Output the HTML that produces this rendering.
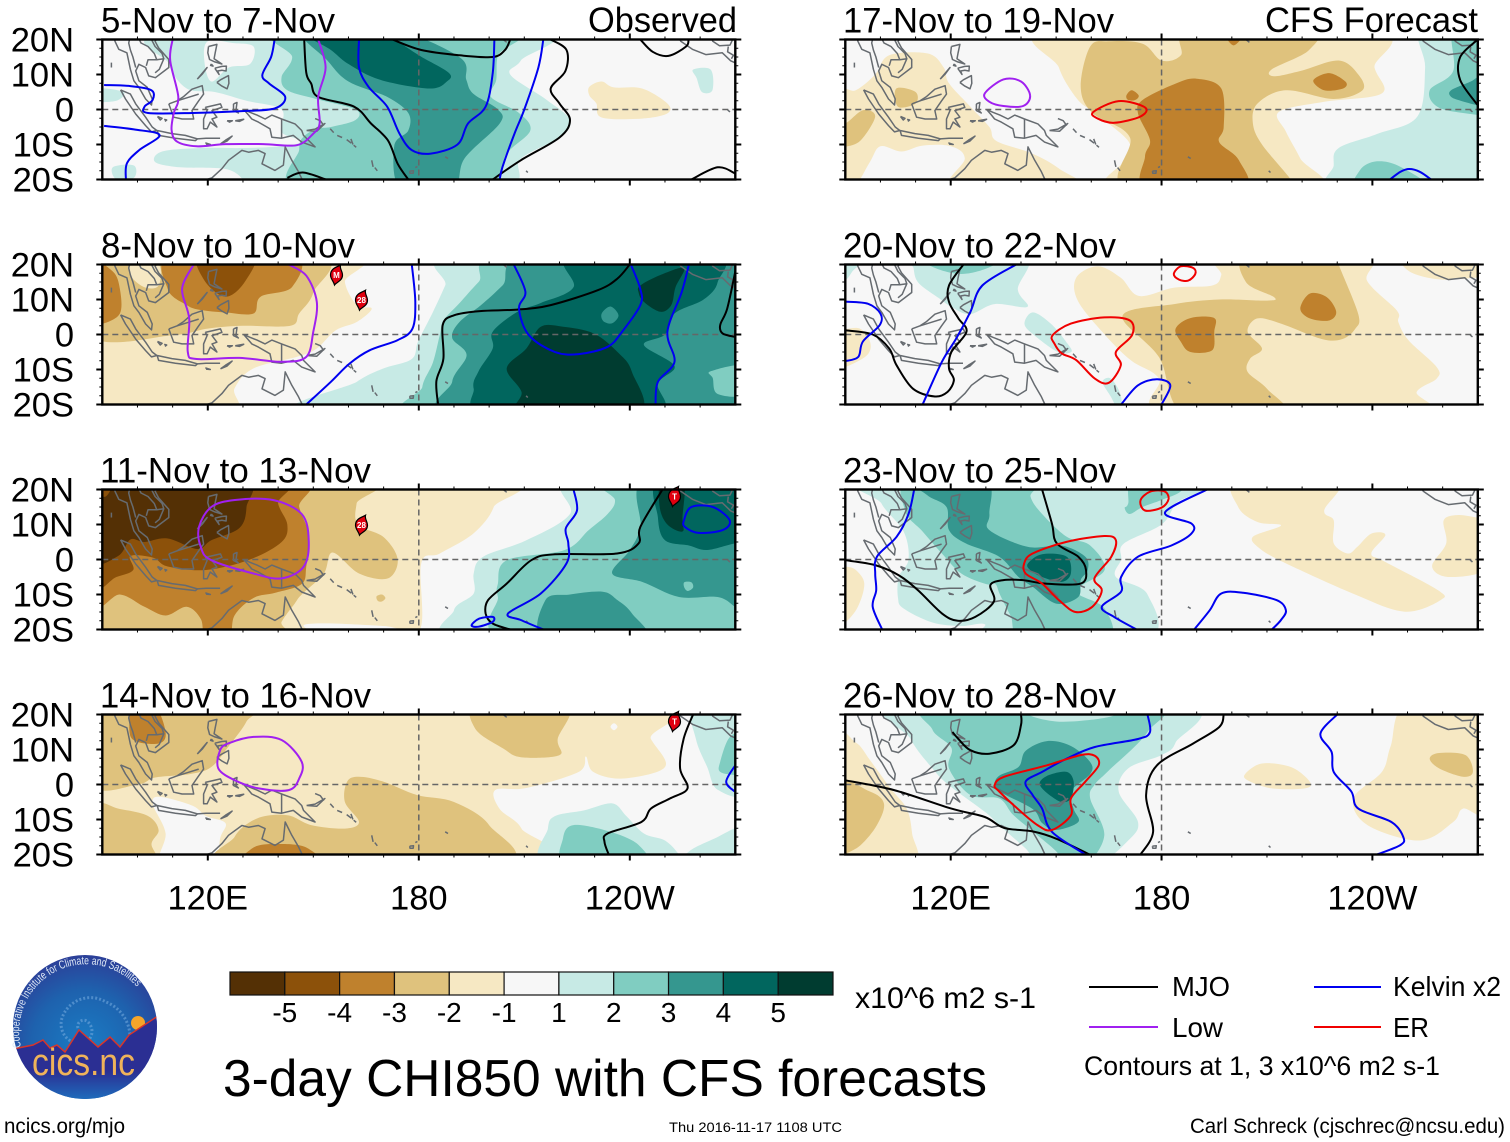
<!DOCTYPE html>
<html lang="en">
<head>
<meta charset="utf-8">
<title>3-day CHI850 with CFS forecasts</title>
<style>
html,body{margin:0;padding:0;background:#fff;}
svg{display:block;font-family:"Liberation Sans",sans-serif;}
</style>
</head>
<body>
<svg id="chart" xmlns="http://www.w3.org/2000/svg" width="1510" height="1142" viewBox="0 0 1510 1142">
  <rect width="1510" height="1142" fill="#fff"/>
  <g id="panels"></g>
  <g id="colorbar"></g>
  <text x="855" y="1008" font-size="30" textLength="181" lengthAdjust="spacingAndGlyphs">x10^6 m2 s-1</text>
  <g>
    <defs>
      <radialGradient id="logoGrad" cx="50%" cy="62%" r="62%">
        <stop offset="0" stop-color="#1a7cc4"/><stop offset="0.6" stop-color="#1e62ae"/><stop offset="1" stop-color="#2c3f98"/>
      </radialGradient>
      <linearGradient id="logoLand" x1="0" y1="0" x2="0" y2="1">
        <stop offset="0" stop-color="#2b2f93"/><stop offset="0.62" stop-color="#2b2f93"/><stop offset="1" stop-color="#1c78c4"/>
      </linearGradient>
      <clipPath id="logoClip"><circle cx="85" cy="1027" r="72"/></clipPath>
      <path id="logoArc" d="M21 1047 A66 66 0 0 1 152 1016"/>
    </defs>
    <circle cx="85" cy="1027" r="72" fill="url(#logoGrad)"/>
    <path d="M78 1028 a6 6 0 0 1 10 -6 a13 13 0 0 1 -6 22 a20 20 0 0 1 -20 -26 a30 30 0 0 1 44 -16 a38 38 0 0 1 24 34" fill="none" stroke="#6fa6dc" stroke-width="3" stroke-dasharray="2 2" opacity=".6"/>
    <circle cx="138" cy="1023" r="7" fill="#f5a52a"/>
    <path clip-path="url(#logoClip)" d="M10 1050 L18 1048 L33 1045 L43 1040 L50 1048 L57 1045 L65 1052 L79 1030 L98 1047 L110 1037 L120 1047 L129 1035 L158 1016 L160 1105 L10 1105 Z" fill="url(#logoLand)" stroke="#d8352a" stroke-width="1.5"/>
    <text font-size="11.5" fill="#dfe9f6"><textPath href="#logoArc" textLength="178" lengthAdjust="spacingAndGlyphs">Cooperative Institute for Climate and Satellites</textPath></text>
    <text x="32" y="1075" font-size="38" fill="#efb35a" textLength="103" lengthAdjust="spacingAndGlyphs">cics.nc</text>
  </g>
  <text x="223" y="1096" font-size="52" textLength="764" lengthAdjust="spacingAndGlyphs">3-day CHI850 with CFS forecasts</text>
  <g>
    <line x1="1089" x2="1158" y1="987" y2="987" stroke="#000" stroke-width="2"/>
    <text x="1172" y="996" font-size="28" textLength="58" lengthAdjust="spacingAndGlyphs">MJO</text>
    <line x1="1314" x2="1381" y1="987" y2="987" stroke="#0000f0" stroke-width="2"/>
    <text x="1393" y="996" font-size="28" textLength="108" lengthAdjust="spacingAndGlyphs">Kelvin x2</text>
    <line x1="1089" x2="1158" y1="1027" y2="1027" stroke="#a020f0" stroke-width="2"/>
    <text x="1172" y="1037" font-size="28" textLength="51" lengthAdjust="spacingAndGlyphs">Low</text>
    <line x1="1314" x2="1381" y1="1027" y2="1027" stroke="#f00000" stroke-width="2"/>
    <text x="1393" y="1037" font-size="28" textLength="36" lengthAdjust="spacingAndGlyphs">ER</text>
    <text x="1084" y="1075" font-size="27" textLength="356" lengthAdjust="spacingAndGlyphs">Contours at 1, 3 x10^6 m2 s-1</text>
  </g>
  <text x="4" y="1133" font-size="21" textLength="121" lengthAdjust="spacingAndGlyphs">ncics.org/mjo</text>
  <text x="669" y="1132" font-size="14" textLength="173" lengthAdjust="spacingAndGlyphs">Thu 2016-11-17 1108 UTC</text>
  <text x="1190" y="1133" font-size="21" textLength="315" lengthAdjust="spacingAndGlyphs">Carl Schreck (cjschrec@ncsu.edu)</text>
</svg>
<script>
const levelColors = {'-5':'#543005','-4':'#8c510a','-3':'#bf812d','-2':'#dfc27d','-1':'#f6e8c3','0':'#f7f7f7','1':'#c7eae5','2':'#80cdc1','3':'#35978f','4':'#01665e','5':'#003c30'};
const colorbarLevels = [-5,-4,-3,-2,-1,0,1,2,3,4,5];
const colorbarLabels = ['-5','-4','-3','-2','-1','1','2','3','4','5'];
const latTicks = [20,10,0,-10,-20];
const latTickLabels = ['20N','10N','0','10S','20S'];
const lonTicks = [120,180,240];
const lonTickLabels = ['120E','180','120W'];
const panelTitles = ['5-Nov to 7-Nov','8-Nov to 10-Nov','11-Nov to 13-Nov','14-Nov to 16-Nov','17-Nov to 19-Nov','20-Nov to 22-Nov','23-Nov to 25-Nov','26-Nov to 28-Nov'];
const lineColors = {mjo:'#000000',kelvin:'#0000f0',low:'#a020f0',er:'#f00000'};

const panel1Fills = [
 [1,[[110,22],[109,13],[114,6],[122,5],[131,2.5],[141,0],[141,-6.5],[147,-9],[141,-10.5],[130,-11],[118,-11],[107,-12],[105,-15],[112,-16.5],[125,-17],[130,-20],[131,-23],[201,-23],[209,-14],[220,-8],[223,-3],[216,3],[206,10],[209,14],[213,23]]],
 [0,[[120,19.5],[127,19],[133,18],[132,13],[126,12],[121,8],[119,14]]],
 [1,[[88,6],[96,5],[94,2.5],[88,2.5]]],
 [1,[[93,-16.5],[99,-16],[99,-19.5],[94,-20]]],
 [2,[[141,23],[144,15],[141,9.3],[142.6,5.5],[150.8,3],[162,0],[162,-3],[155,-5],[151,-5.5],[147,-8],[146,-11.5],[146,-23],[197,-23],[205,-12.5],[211.7,-6],[208.5,-1],[200.5,3.6],[202,8.4],[202.5,15.5],[206,23]]],
 [3,[[147,23],[154,14],[160,8],[171,3.6],[177,-1],[177,-6],[173,-10.5],[175,-23],[189.5,-23],[193,-14],[203,-4],[202.5,0],[195.5,4.5],[193.5,8.5],[191.5,15],[172,23]]],
 [4,[[147,23],[155,17],[160,13],[169,8.5],[183,6],[188,8],[188.5,10.5],[180,15.5],[172,21],[170,23]]],
 [-1,[[228.5,6.5],[232,8],[235.5,6.3],[243.5,6],[250.7,1.7],[250.7,-1.1],[243.5,-2.6],[232,-2.3],[230.5,1.7],[228.5,4]]],
 [1,[[258,11.4],[263,11.4],[263.5,5.5],[260.5,5],[259,9]]]
];
const panel1Lines = [
 ['mjo',0,[[147.4,20],[148,10.5],[149.4,7.4],[151.4,3.6],[161.6,.8],[166.4,-4],[171.2,-8.8],[174,-15.5],[177,-20]]],
 ['mjo',0,[[172.5,20],[180.7,17],[191.6,15.5],[201,15],[204.5,17],[206,20]]],
 ['mjo',0,[[217.5,20],[222,17],[221.7,11],[217.5,6],[220,1.7],[223,-3],[220,-8],[209,-14.5],[201,-20]]],
 ['mjo',0,[[142.6,-19.5],[147,-18],[153.6,-20]]],
 ['mjo',0,[[243,20],[246.5,16.5],[251,15.3],[256,18],[256.7,20]]],
 ['mjo',0,[[257.5,-20],[265,-16.5],[270,-18.3]]],
 ['kelvin',0,[[90.5,7],[98,6.7],[104,5.5],[104.3,2.7],[102,.8],[103,-1],[115.5,-1],[129,-.5],[139,.3],[142,3.6],[137.5,7.4],[135.5,9.8],[138,15],[139,20]]],
 ['kelvin',0,[[90.5,-4.7],[99,-5.7],[106.3,-7.3],[100.5,-11.6],[97,-15.4],[96.7,-20]]],
 ['kelvin',0,[[163,20],[163,12],[165.7,6.5],[171,.8],[174.5,-6.9],[178,-11.6],[183.4,-12.6],[191,-10],[194,-4],[199,.8],[201,10.3],[201.5,20]]],
 ['kelvin',0,[[215.4,20],[214,12],[210,0],[207.2,-6.9],[203.8,-16.4],[203,-20]]],
 ['low',0,[[110,20],[109.3,14],[111.6,3.6],[110.3,-1.1],[109.7,-5.9],[111.3,-9.2],[116.8,-10.5],[125,-9.9],[135.8,-9.9],[145.3,-10.2],[150,-6.9],[151.8,-4],[151.4,3.6],[153.5,12],[151.4,20]]]
];
const panel2Fills = [
 [-1,[[160.3,23],[159,15],[162.4,8.4],[166.6,7.4],[162.4,3.6],[156.4,1.2],[151,-4],[145.3,-6.4],[133,-9.7],[127.6,-15.4],[126,-23],[87,-23],[87,23]]],
 [-2,[[150.5,23],[150,12],[146,6],[143.5,2.5],[130,2.5],[120,1.7],[110,-.2],[87,-.5],[87,23]]],
 [-1,[[99,21],[106,20],[106,14],[102,13.5],[98,17]]],
 [-3,[[110,23],[108.6,13],[114,8.4],[118,7],[125,6.3],[133,6],[135,10.8],[144,13.6],[144,23]]],
 [-3,[[87,20],[93,18],[95,13],[95,6],[90,3],[87,3]]],
 [-4,[[117.5,23],[119,15.5],[125,10.8],[130.5,15],[133,23]]],
 [1,[[191.5,23],[187.5,14],[184,6.4],[179.8,-2],[178,-7],[170,-9.7],[162.4,-13.5],[150,-23],[273,-23],[273,23]]],
 [2,[[205,23],[197,15],[191.6,9],[187,4],[186,0],[184,-8],[181,-15],[182,-23],[273,-23],[273,23]]],
 [3,[[212.6,23],[203.8,14],[197.7,8.4],[191.6,3.6],[189.5,-1],[193.6,-5.9],[189.5,-13.5],[191.6,-23],[273,-23],[273,23]]],
 [4,[[223.5,23],[224,13.5],[214.7,9],[207.9,6.4],[201,.8],[201,-4],[197,-10.5],[195.6,-15.5],[199.7,-23],[246.6,-23],[248,-14],[252.7,-9],[244,-3],[250,0],[252.7,6],[261,10],[265,15],[264,23]]],
 [3,[[232,6],[234.5,8],[236.8,5.5],[235,3.2],[232.5,3.8]]],
 [5,[[214.7,2.2],[221,2.2],[229.7,.3],[236.5,-5],[240.6,-10.7],[242,-23],[209.2,-23],[209.2,-16.4],[205,-9.7],[210.6,-4]]],
 [5,[[243,14],[248.7,17],[255.4,19],[253,13.5],[251.8,8.4],[248.7,6.5],[244,9.3],[242.5,12]]],
 [2,[[273,-9],[263,-10.5],[263.6,-12.5],[265,-17],[273,-17]]]
];
const panel2Lines = [
 ['mjo',0,[[185.5,-20],[185,-13.3],[187,-6.9],[186.8,2.7],[190,5.5],[197.4,6.7],[208,7.1],[217.5,8.4],[231,12.7],[236.5,16],[240,20]]],
 ['mjo',0,[[270,18],[267.7,7.4],[265.7,2.7],[266.4,.3],[270,-.7]]],
 ['kelvin',0,[[178,20],[179,9.3],[178.2,1.7],[174,-1.6],[166,-4.5],[160.3,-8.3],[155,-13.5],[148,-20]]],
 ['kelvin',0,[[207,20],[210.3,12.2],[208.5,7.4],[211.3,-.2],[218.7,-5],[225.5,-5.6],[233.7,-3.5],[237.8,.8],[243,8.4],[243,13],[240.3,20]]],
 ['kelvin',0,[[256.8,20],[254.8,12.2],[250.7,.8],[252.7,-7.8],[248,-13.5],[247.3,-20]]],
 ['low',0,[[116,20],[112.7,13.1],[114.7,4.6],[114.3,-5],[116.8,-7],[129,-6.7],[141,-7.8],[148,-6.4],[150,.8],[151,9.3],[148,16.8],[143,20]]]
];
const panel3Fills = [
 [-1,[[201,23],[201.3,15],[195.6,7.5],[186,1.7],[180.7,-1],[180.3,-20],[170,-19],[148,-18.5],[146.4,-23],[87,-23],[87,23]]],
 [-2,[[164.3,23],[162.3,16],[162.7,10],[170,6.4],[174,0],[171.2,-5.4],[163,-4],[155.5,2],[153,-4],[146.7,-10],[144.7,-12.6],[141,-17.8],[139,-23],[87,-23],[87,23]]],
 [-2,[[168,-10.5],[169.5,-10],[170.5,-11],[169.5,-12],[168.3,-11.8]]],
 [-3,[[145,23],[146,15],[148.7,7],[148,-2],[146.7,-7],[139.2,-9.5],[133,-11],[127.6,-16],[126,-23],[119.5,-23],[118,-17],[114,-13.5],[108,-16],[102,-13.5],[95,-10],[87,-12],[87,23]]],
 [-4,[[140,23],[140,16],[142.6,10],[141,5],[132,0],[119.5,-3],[108.6,-2],[104.5,.5],[98,1],[98.8,-3],[94,-5],[87,-7],[87,23]]],
 [-5,[[130,23],[131,15],[129,9],[121,5.5],[117,3],[108.6,6],[102,5],[98,5.7],[94.5,1],[87,-.5],[87,17],[91,18],[93,21],[95,23]]],
 [1,[[223.5,23],[223,13],[210.6,5.5],[198.3,.8],[195.6,-4],[195.6,-9.7],[190,-14.5],[193,-23],[273,-23],[273,23]]],
 [2,[[233,23],[235.8,17],[233.7,13],[228.3,8.4],[221.5,2.7],[205,-.2],[202.5,-6.9],[202.5,-10.7],[205.8,-23],[273,-23],[273,23]]],
 [3,[[244.3,23],[243,9.3],[240,2.7],[235,-4],[243.5,-6.4],[254,-10.7],[265,-10.7],[270,-13.5],[273,-15],[273,23]]],
 [3,[[216,-11.6],[223,-10],[232.3,-9.2],[236.5,-11.6],[240.6,-15.4],[244,-23],[216,-23]]],
 [2,[[255.5,-6.5],[257.5,-6.5],[258,-8],[256.5,-9],[255.5,-8]]],
 [4,[[248.7,23],[248,12],[250,5.5],[256.8,4],[262,2.7],[270,4.6],[273,4],[273,23]]],
 [5,[[249,23],[255.3,23],[255,12],[255,8],[250.7,10],[248.5,15]]]
];
const panel3Lines = [
 ['mjo',0,[[249.3,20],[243,9.3],[242.5,4.6],[236.4,1.7],[218.7,1.5],[212,-.2],[205,-6.9],[199.7,-11.6],[199,-15.4],[201,-18.3],[206,-20]]],
 ['kelvin',0,[[224,20],[225,14],[221.8,8.9],[222.5,4.6],[222,-1.1],[214.7,-9.7],[205.4,-15.4],[209,-17.3],[215.4,-20]]],
 ['kelvin',1,[[195,-18.8],[197.2,-16.9],[201,-16.4],[201,-17.8],[197,-19.2]]],
 ['kelvin',1,[[255.4,11.2],[257.5,15],[263.6,15],[268.4,11.2],[266.4,8.4],[259.6,7.6],[255.7,9.3]]],
 ['low',1,[[117.5,9.3],[121,15],[127.7,17],[138.5,17],[146.7,13],[148.7,5.5],[147.3,-2],[141,-5.4],[133,-4],[121,-.2],[118,3.6]]]
];
const panel4Fills = [
 [-1,[[87,23],[240,23],[246,13],[250,5],[238,1.7],[229.6,3.6],[227.5,8],[225.5,3.6],[210.6,-1],[201.7,-1.6],[203,-7],[209.2,-12.6],[211,-23],[87,-23]]],
 [0,[[234.5,16.5],[235.5,17.5],[236.5,16.5],[235.5,15.5]]],
 [0,[[104.5,-6],[108,-14],[106.6,-23],[121,-23],[123.6,-15],[125,-11],[119.5,-9],[115.5,-6],[106,-3.5]]],
 [-2,[[87,0],[100,0],[105,2],[115,3],[121,5],[126,11],[131,18],[132,23],[87,23]]],
 [-2,[[87,-6],[95,-7],[103,-9],[106,-13],[104,-17],[105,-23],[87,-23]]],
 [-2,[[159.6,.8],[163,2.2],[170,.8],[179.5,-3],[190,-5],[200,-11.6],[202.5,-23],[127,-23],[127.6,-15],[134,-9.7],[142.6,-8.8],[149.4,-11.6],[159,-12.6],[163,-10.7],[159,-5]]],
 [-2,[[197,23],[196,16],[204,10.3],[209,7.8],[220,8.4],[219.5,13],[222,23]]],
 [-3,[[97,23],[97.7,20],[98.5,13],[106,11.7],[108,15],[104.5,23]]],
 [-3,[[130.4,-23],[133,-18],[140,-17],[148,-18],[151.5,-23]]],
 [1,[[216.7,-23],[216.7,-12.6],[218.8,-9],[227,-7.4],[235,-5.4],[239,-9],[244,-14],[250,-16],[254,-20],[255.4,-23]]],
 [1,[[258,23],[258.8,13],[262,5],[265,-1.5],[273,-1.5],[273,23]]],
 [1,[[255,-23],[257,-19],[265,-15],[270,-12.5],[273,-12.5],[273,-23]]],
 [2,[[221,-15.4],[224,-11.6],[234.4,-13.5],[242.5,-17.3],[244,-23],[222,-23]]],
 [2,[[268.5,13.6],[265.7,6.5],[265.7,3.6],[270,2.7],[273,3],[273,14]]]
];
const panel4Lines = [
 ['mjo',0,[[258,20],[255.3,13],[254.3,4.6],[256.4,-1.1],[251.4,-4],[246,-6.9],[243.3,-10.7],[233.7,-14],[232.8,-16.4],[234,-20]]],
 ['kelvin',0,[[270,5.5],[267.4,.8],[269.8,-2]]],
 ['low',1,[[123.5,9.8],[126,11.8],[133,13.6],[141,12.7],[146.7,6.5],[146,1.7],[143,-1.6],[134.5,-1.1],[127.7,1.2],[123,4.6]]]
];
const panel5Fills = [
 [-1,[[87,4],[93,5.5],[98.5,10],[102.5,15.5],[113.5,16],[118,12],[119.5,7.5],[125.6,.8],[131,-5],[133,-9],[143,-12.5],[151,-17],[157,-23],[121,-23],[124,-14],[120,-10.5],[112,-10.3],[106,-12],[100,-10.5],[97,-15],[92,-23],[87,-23]]],
 [-2,[[104.5,6],[110,5],[110,1.7],[105,.8]]],
 [-2,[[87,-4],[90,-4],[95,-.2],[98.5,-2],[94.4,-8.8],[90,-10.7],[87,-11]]],
 [-1,[[149.4,23],[150.8,12],[156,3],[161,-1],[170.5,-9],[170,-14],[167,-23],[223.6,-23],[219.5,-14],[215.4,-6.3],[213.4,-.7],[226.3,2.2],[242.7,4.6],[240.6,12],[238.6,23]]],
 [-2,[[222,23],[222,17],[211.4,11.5],[212,9.5],[219.5,11],[230.4,14],[236,10],[237.2,5.5],[229,3],[215.4,5.5],[207.3,1.7],[206,-4],[208.6,-10],[216.8,-20],[218,-23],[170.5,-23],[171,-8],[160.3,-1],[157,6.5],[159.7,18],[165,19.5],[174.6,18.8],[180,14],[185.5,15.5],[188.2,23]]],
 [-3,[[174.6,2.7],[184,7.4],[190,8.8],[197,6],[197.7,-5],[196.4,-9.3],[202,-14.5],[203,-23],[176,-23],[175.3,-13.5],[176.7,-8.8],[173.3,-1.1]]],
 [-3,[[223.2,8.3],[227.7,10.4],[232.4,7.9],[231.7,6],[226.3,5.5]]],
 [-3,[[170,4],[171.5,5.5],[173.5,4],[172.5,2.7],[170.5,2.7]]],
 [-3,[[197.7,23],[200.5,18.3],[204,23]]],
 [1,[[254,23],[255,12],[252.8,-2],[241.3,-7],[230.4,-11],[229,-16],[229.8,-23],[273,-23],[273,23]]],
 [2,[[263,23],[263,11],[256.3,5.5],[259,.5],[270,-1.6],[273,-2],[273,23]]],
 [2,[[236,-23],[236.5,-17.3],[241.3,-14.8],[248,-16.4],[256.3,-23]]],
 [3,[[273,10.5],[268,8],[262.4,5.5],[262.4,3.6],[265.8,2.3],[270,1.2],[273,1]]]
];
const panel5Lines = [
 ['mjo',0,[[270,20],[265,15],[265,8.4],[270,1.2]]],
 ['kelvin',0,[[245,-20],[248,-17.8],[250.5,-17],[253.5,-17.8],[256.7,-20]]],
 ['low',1,[[129.7,4.6],[135,8.6],[140,8],[142.6,4],[140.6,1],[135,1],[131,2.2]]],
 ['er',1,[[160.6,-.7],[167.8,2.4],[175.3,.6],[174,-2],[166.5,-3.8],[161.7,-2.5]]]
];
const panel6Fills = [
 [1,[[109,23],[109.4,19],[110.8,14.8],[116.5,10.5],[120,8],[125.4,5.8],[132.5,8.7],[141.8,7.9],[139.1,12.9],[140.6,23]]],
 [1,[[87,23],[94,21],[92,18],[90,15.5],[87,15]]],
 [2,[[113,23],[113.6,20],[120.2,17.6],[125.9,17.6],[132.5,20],[133,23]]],
 [1,[[141,3],[143.4,6.3],[148.6,3],[153.3,-2.7],[154.3,-5],[150.5,-5],[143.9,-.3]]],
 [1,[[163.2,-13.6],[165.6,-12.6],[168.4,-17.4],[168.4,-23],[165.6,-17.8]]],
 [-1,[[87,1.6],[90,1.6],[94.3,1.6],[97.1,-2.2],[96.1,-6],[90,-9.3],[87,-9.5]]],
 [-1,[[182.2,-23],[179.3,-12.6],[171.3,-7.4],[163.7,.1],[156.2,9.6],[155.7,16.2],[161.8,19.5],[168.4,16.2],[173.6,11],[183.6,13.4],[194.4,14],[197,17],[197.5,23],[238,23],[238.5,15.3],[247,6.8],[247.4,3.5],[250.3,-1.7],[258.3,-9.3],[258.3,-12.6],[252.6,-16.4],[252.6,-23]]],
 [-1,[[248,23],[248.4,20],[252.2,17.2],[259.7,15.7],[269,16.2],[273,17],[273,23]]],
 [-2,[[204.5,23],[204,15],[212,10.7],[210,9.7],[196.4,10],[183.6,8.7],[168.9,5.3],[179.3,-6.5],[186.9,-23],[214.8,-23],[210,-15.5],[204.5,-10.7],[205.2,-6.9],[208.6,-4],[204.5,.8],[207.3,4.6],[214,3.1],[225.7,-1.3],[231.4,-1.3],[235.1,1.6],[236,5.8],[230.4,20],[230,23]]],
 [-3,[[184,1.7],[188.2,4.7],[195,4.7],[195,.8],[194.4,-4.5],[188.2,-5],[185.5,-2.1]]],
 [-3,[[219.5,7.4],[222.2,11.7],[227,10.7],[229.7,6.5],[227.7,4],[222.2,4.6]]]
];
const panel6Lines = [
 ['mjo',0,[[90,1.2],[97.8,0],[102.5,-4],[104.6,-8.8],[109.3,-15.5],[115.5,-17.7],[119.1,-16.4],[120.9,-13],[119.5,-9.7],[120.2,-5],[124.5,.8],[122.2,4.6],[119.5,9.3],[119.5,14],[123.6,20]]],
 ['kelvin',0,[[90,-7.6],[93.7,-6.4],[95,-2],[99.8,2.7],[100,6],[96.4,8.8],[90,9.4]]],
 ['kelvin',0,[[112,-20],[117.5,-7.8],[121.6,-1.1],[125.6,6.5],[129,14],[138.6,20]]],
 ['kelvin',0,[[168.5,-20],[173.3,-14.5],[178.7,-12.8],[182.5,-14.5],[180,-20]]],
 ['er',1,[[149,-.2],[154.2,3.1],[163.7,4.9],[171,4],[171.6,-.2],[167,-5],[168.4,-8.8],[165,-13.8],[161,-12.6],[155.7,-7.3],[151.6,-5.4],[149.5,-2.6]]],
 ['er',1,[[183.5,17.3],[185.5,19.5],[189,19],[189.6,17.3],[187.6,15.4],[185,15.7]]]
];
const panel7Fills = [
 [1,[[99,23],[100.3,16],[106.6,8],[108,0],[105.2,-5],[105,-11],[106.6,-14],[114.8,-18],[123,-19],[129.7,-18.5],[131,-23],[175.3,-23],[176,-10],[167,-5],[168.5,0],[169.2,4.5],[180,10],[184,16],[189,23]]],
 [2,[[109.3,23],[107,14],[112,8],[117.5,1.7],[123,-4],[130,-7],[132.7,-7],[134,-10],[137,-16],[141,-23],[164.4,-23],[163.8,-14],[155.7,-9],[163.8,-3],[159.7,4],[153,6.5],[146,13],[142.7,18],[143.3,23]]],
 [2,[[170.5,16],[172,23],[186,23],[185.5,19.5],[180,17],[174.6,15],[171,13],[169.5,14.7]]],
 [3,[[129.7,23],[131,13],[131,8.4],[142,3.6],[151.5,4],[158.3,.8],[159,-3],[157,-5.9],[156.3,-10.7],[150,-12.6],[143.3,-7.8],[139.3,-5],[133.8,.8],[124.3,4.6],[119.5,8.4],[118.8,15],[113.4,18.3],[109.3,23]]],
 [4,[[142,-1.1],[146,1.5],[153,.8],[154.2,-4],[151.6,-6.4],[146,-5],[142.6,-3]]],
 [-1,[[201.8,23],[201.8,15],[207.3,10.7],[214,9.7],[206,6.5],[208,3.1],[215.4,-1.1],[234.4,-9.7],[249,-14.9],[259.4,-11.6],[258.7,-8.8],[243.7,-.7],[239.7,1.7],[243.7,7],[239.7,7.4],[235.7,3.6],[233,1.7],[229,4.6],[229,11.2],[226.3,14],[230,23]]],
 [-1,[[260.3,11.2],[264.4,12.7],[270,12],[273,12],[273,-2],[262,-5],[257,-2],[261,4.6]]],
 [-1,[[87,-2],[90,-2],[93,-3],[95.4,-6.9],[93.6,-13.5],[90,-18],[87,-19]]]
];
const panel7Lines = [
 ['mjo',0,[[146,20],[148.8,10.3],[150.2,4.6],[156.3,.8],[158.5,-3],[157,-6.9],[147,-6.9],[140.5,-5.9],[135,-5.9],[131.3,-7.3],[132.3,-12],[127,-16.4],[122,-17.5],[117.5,-15.4],[110.7,-8.8],[105.2,-4.5],[98.5,-1.6],[90,-.2]]],
 ['kelvin',0,[[109.6,20],[108,13],[104.6,6.5],[99,.8],[98.5,-4],[98.8,-8.8],[97.8,-13.5],[100.5,-20]]],
 ['kelvin',0,[[193,20],[181,13.5],[188.5,10.3],[188.5,7.4],[182.8,4],[173.3,.8],[168.5,-5],[168.5,-9.2],[163,-13.5],[166.5,-16.4],[172.9,-20]]],
 ['kelvin',0,[[189.3,-20],[193.7,-14.5],[197,-9.7],[203.2,-9.5],[212.7,-11.6],[215.4,-14.5],[214,-17.3],[211.4,-20]]],
 ['er',1,[[140.9,-1.1],[143.3,1.7],[152.8,5],[163.7,6.7],[167,5.5],[165.7,.8],[160.9,-5.4],[163,-8.8],[160.3,-13.5],[155.5,-15],[150.8,-11.6],[146,-6.9],[141.3,-4]]],
 ['er',1,[[174,16.9],[176.8,19.4],[180.8,19.5],[182,17.3],[180,14.8],[175.3,14]]]
];
const panel8Fills = [
 [1,[[106,23],[108.6,13],[114.8,4.6],[119.5,-.2],[129.7,-7.8],[133.8,-11.6],[141.3,-18.3],[146,-23],[161,-23],[170.5,-16],[173.3,-10.7],[167.8,-2],[170.5,4.6],[180,8.4],[184,12],[186,23]]],
 [2,[[116,23],[114.8,15.7],[120.2,10.5],[119.5,4.6],[125.6,-3],[133.8,-4],[137.9,-8.8],[144.7,-14.5],[150.8,-20],[151,-23],[158.3,-23],[163.7,-14.5],[159.7,-4],[161,0],[165,4],[176,15],[176.7,23]]],
 [1,[[141,23],[142,20],[150,18],[160,18.5],[167,20],[167,23]]],
 [3,[[133.8,2.5],[139.3,5],[141.3,9.6],[147.4,12.4],[154.2,11],[159.7,6.4],[159.7,3],[154.2,-2],[155,-7],[156.3,-10.7],[150,-13],[146,-11],[143.3,-7],[133.8,-2],[132.5,0]]],
 [4,[[145.4,.8],[148,2.7],[153,3.6],[155,.8],[154.2,-4],[151.6,-5],[148.8,-3.5],[146,-1.1]]],
 [-1,[[87,13],[93,12],[97,7],[102.8,-1],[107.5,-7],[109,-14],[109.3,-23],[87,-23]]],
 [-2,[[87,0],[97,-2],[101,-5.5],[99,-11.6],[94.4,-17.3],[90,-20],[87,-23]]],
 [-1,[[203.9,3.1],[208.6,6],[216.8,5],[222.2,.8],[220.8,-1.1],[211.3,-1.1],[204.5,1.2]]],
 [-1,[[250,23],[245.2,11],[242.7,3.6],[234.6,-4],[238.6,-11.6],[253.5,-16],[263,-10.7],[265.8,-6.9],[273,-6.9],[273,23]]],
 [-2,[[256.3,7.4],[259,9],[266.5,8.4],[268.6,3.6],[265.8,2.2],[259,4.6]]]
];
const panel8Lines = [
 ['mjo',0,[[90,1.2],[103.9,-1.6],[120.2,-6.9],[129.7,-9.3],[135.2,-12.4],[143.3,-13.4],[150.1,-15.5],[159.5,-20]]],
 ['mjo',0,[[120.5,15],[122.2,13],[125.6,9.8],[131,8.8],[137.9,11.2],[140,17],[140,20]]],
 ['mjo',0,[[197.7,20],[196.4,16.4],[189,11.7],[178.7,5.5],[175.6,-3],[177.6,-13.5],[174,-20]]],
 ['kelvin',0,[[176,20],[176.7,15],[173.3,13],[161,10.7],[153,7.4],[146,3.6],[141.3,.8],[143.3,-3],[146,-6.9],[148.8,-13.5],[158.3,-20]]],
 ['kelvin',0,[[230,20],[225.2,14.5],[228.4,9.3],[229,3.6],[234,-2],[236,-6.9],[245.4,-10.7],[248.8,-15],[248,-17.3],[241.3,-20]]],
 ['er',1,[[132.5,-.2],[135.2,2.2],[147.4,5.5],[157,8.4],[161,8.2],[162.1,5.5],[158.3,.8],[154.2,-4],[154.2,-8.8],[148.8,-13],[144.7,-11.6],[137.9,-5.9],[133.8,-2]]]
];
const tcPanels = [1,1,2,2,3];
const tcLons = [156.6,163.7,163.7,252.7,252.7];
const tcLats = [17,9.8,9.8,18,18];
const tcNames = ['M','28','28','T','T'];
const panelFills = [panel1Fills,panel2Fills,panel3Fills,panel4Fills,panel5Fills,panel6Fills,panel7Fills,panel8Fills];
const panelLines = [panel1Lines,panel2Lines,panel3Lines,panel4Lines,panel5Lines,panel6Lines,panel7Lines,panel8Lines];

const coastLines = [
 [[93.3,21],[93.6,19.5],[94.7,17.2],[97,16.2],[98,11.5],[99,8.2],[100.4,6.3],[102.3,3],[104,1.3],[104.2,3],[102.8,6.3],[100.4,8.2],[99.5,11],[100.4,12.9],[102.3,12],[103.2,9.6],[105.1,9.1],[108.9,12],[108.9,14.3],[106,17.6],[105,19.5],[106,21]],
 [[98,21],[97.5,19],[98,17],[98.7,15],[99.5,12]],
 [[100,21],[101,19],[103,18],[104.8,16],[105.5,14.2],[103,14.2],[102.5,12.5]],
 [[105.5,14.2],[107.5,14.5],[106.2,11.5],[105,10.5]],
 [[104,20],[105,18],[107,16],[107.5,14.5]],
 [[95.2,5.6],[98,4.4],[99.5,1.6],[102.3,-2.2],[104.2,-5],[105.5,-6],[104,-6.4],[102.3,-4.6],[99.5,-1.3],[96.6,3],[95.2,5.6]],
 [[105.6,-6],[109.8,-6.9],[113.6,-7.4],[117,-8.4],[116.5,-8.9],[110.8,-8.2],[106,-7.4],[105.6,-6]],
 [[117,-8.4],[119.5,-8.2],[123.5,-8.2]],
 [[119.3,-9.5],[120.7,-10],[119.5,-9.9]],
 [[123.6,-9.8],[125,-8.8],[126.9,-7.6],[125.5,-9],[123.6,-9.8]],
 [[105.7,-2],[107,-2.5],[106.5,-3],[105.7,-2]],
 [[107.6,-2.8],[108.3,-3],[107.8,-3.4]],
 [[108.9,1.6],[111.3,2.5],[113,3.6],[115.5,5.8],[118.4,6.8],[118.8,4.4],[117.4,2.5],[115.5,-.3],[116,-2.7],[112.7,-2.7],[110.3,-2.2],[108.9,1.6]],
 [[111.3,2.5],[114.5,3.5],[117.4,4.4]],
 [[119.3,.6],[123.6,1.6],[124,.6],[121.2,-.3],[122.6,-2.2],[121.2,-2.7],[122.6,-5],[120.7,-3.6],[119.8,-5.5],[118.8,-5.5],[118.8,-2.7],[119.8,-.3],[119.3,.6]],
 [[120.2,18],[122.6,18.6],[122.1,16.2],[121.8,14.5],[124,13],[122,13.6],[120.5,14.3],[120,16.2],[120.2,18]],
 [[122.6,7.7],[123.6,8.5],[125.9,9.7],[126,7.5],[125.5,5.9],[124,6.7],[122.6,7.7]],
 [[122,11.8],[123.2,10],[122.8,11],[124,11.2],[125.2,11],[125.3,12.4],[124,12.3],[122,11.8]],
 [[121,13],[121.5,12.4],[120.8,12.6],[121,13]],
 [[117,8.7],[119.8,12],[118.5,10.2],[117,8.7]],
 [[92.6,13.4],[92.6,12]],
 [[127.3,1.6],[128.3,2],[128,-.3],[128.7,-1],[127.3,-.3],[127.3,1.6]],
 [[127.8,-3.2],[130.2,-2.8],[129,-3.4],[127.8,-3.2]],
 [[125.5,-3.2],[127,-3.2],[126.2,-3.6],[125.5,-3.2]],
 [[130.2,0],[131.6,-1.6],[132.5,-2.7],[134.4,-3.6],[137.7,-5.5],[138.2,-7.9],[141,-8.2],[144.3,-7.4],[146.7,-9.3],[150.5,-10.7],[147.2,-7.4],[146.7,-6],[144.8,-4.1],[141,-2.7],[138.2,-1.6],[136.3,-2.7],[134,-1.6],[132,-.8],[130.2,0]],
 [[141,-2.7],[141,-8.2]],
 [[148.1,-6],[150.5,-5.6],[153.3,-4],[151,-6.2],[148.1,-6]],
 [[150.5,-2.6],[152,-3.2],[153,-4.6]],
 [[154.8,-5.5],[155.8,-6.6]],
 [[156.8,-7.4],[158.2,-8]],
 [[159.5,-8.6],[160.8,-9.6]],
 [[160.7,-8.4],[161.3,-10]],
 [[161.5,-10.2],[162.2,-10.8]],
 [[118,-20.5],[121.2,-19.5],[124,-16.9],[125.9,-14.5],[129.7,-11.7],[131.6,-12.2],[134.4,-11.7],[136.3,-12.6],[135.4,-15.5],[139.1,-17.4],[141.5,-15.9],[142,-10.7],[143.9,-14.5],[145.8,-17.8],[146.7,-19.7],[149,-22]],
 [[166.6,-14.5],[167,-16.4]],
 [[167.5,-16.6],[168.2,-17.5]],
 [[177.4,-17.6],[178.5,-17.5],[178.4,-18.2],[177.5,-18.2],[177.4,-17.6]],
 [[179,-16.6],[179.6,-16.3]],
 [[187.5,-13.5],[188.3,-14]],
 [[210.5,-17.5],[211,-18]],
 [[204,20],[205,19.2]],
 [[267.8,-.1],[268.5,-.7]],
 [[254,20.5],[254.5,19.5],[257.8,17.2],[261.6,15.7],[266.3,16.2],[268.7,13.9],[270,13.3]],
 [[263.2,20.5],[263.6,19.5],[265.5,18.2],[268.5,18.4],[269,19.5],[269.4,20.5]],
 [[268,18],[267.8,16.5],[269.5,15.5],[268.9,14.5]]
];

const NS = 'http://www.w3.org/2000/svg';
const panelHeight = 140;
const titleWidths = [234,254,271,271,271,273,273,273];
function panelWidth(i){ return i < 4 ? 633 : 632.5; }
function panelLeft(i){ return i < 4 ? 102.3 : 845.3; }
function panelTop(i){ return 39.5 + (i % 4) * 225; }
function xScale(i, lon){ return panelLeft(i) + (lon - 90) / 180 * panelWidth(i); }
function yScale(i, lat){ return panelTop(i) + (20 - lat) / 40 * panelHeight; }
function make(tag, attrs, parent){
  const el = document.createElementNS(NS, tag);
  for (const k in attrs) el.setAttribute(k, attrs[k]);
  parent.appendChild(el);
  return el;
}
function smoothPath(i, pts, closed){
  const p = pts.map(q => [xScale(i,q[0]), yScale(i,q[1])]);
  const n = p.length;
  const at = k => closed ? p[(k + n) % n] : p[Math.max(0, Math.min(n - 1, k))];
  let d = 'M' + p[0][0].toFixed(1) + ' ' + p[0][1].toFixed(1);
  const segs = closed ? n : n - 1;
  for (let k = 0; k < segs; k++){
    const a = at(k - 1), b = at(k), c = at(k + 1), e = at(k + 2);
    const c1x = b[0] + (c[0] - a[0]) / 6, c1y = b[1] + (c[1] - a[1]) / 6;
    const c2x = c[0] - (e[0] - b[0]) / 6, c2y = c[1] - (e[1] - b[1]) / 6;
    d += 'C' + c1x.toFixed(1) + ' ' + c1y.toFixed(1) + ' ' + c2x.toFixed(1) + ' ' + c2y.toFixed(1) + ' ' + c[0].toFixed(1) + ' ' + c[1].toFixed(1);
  }
  return d + (closed ? 'Z' : '');
}
function straightPath(i, pts){
  return pts.map((q, k) => (k ? 'L' : 'M') + xScale(i,q[0]).toFixed(1) + ' ' + yScale(i,q[1]).toFixed(1)).join('');
}
const root = document.getElementById('panels');
const svgRoot = document.getElementById('chart');
const defs = make('defs', {}, svgRoot);

panelTitles.forEach((title, i) => {
  const x0 = panelLeft(i), y0 = panelTop(i), w = panelWidth(i);
  const g = make('g', {}, root);
  
  
  const clip = make('clipPath', {id:'clip' + i}, defs);
  make('rect', {x:x0, y:y0, width:w, height:panelHeight}, clip);
  const bg = make('rect', {x:x0, y:y0, width:w, height:panelHeight, fill:levelColors['0']}, g);
  
  
  const inner = make('g', {'clip-path':'url(#clip' + i + ')'}, g);
  
  
  panelFills[i].forEach(f => {
    const shape = make('path', {d:smoothPath(i, f[1], true), fill:levelColors[f[0]]}, inner);
    
    
  });
  coastLines.forEach(c => {
    const coast = make('path', {d:straightPath(i, c), fill:'none', stroke:'#666b70', 'stroke-width':1.5, 'stroke-linejoin':'round'}, inner);
    
    
  });
  const eq = make('line', {x1:xScale(i,90), x2:xScale(i,270), y1:yScale(i,0), y2:yScale(i,0), stroke:'#666', 'stroke-width':1.5, 'stroke-dasharray':'6 4'}, inner);
  
  
  const dl = make('line', {x1:xScale(i,180), x2:xScale(i,180), y1:yScale(i,20), y2:yScale(i,-20), stroke:'#666', 'stroke-width':1.5, 'stroke-dasharray':'6 4'}, inner);
  
  
  panelLines[i].forEach(l => {
    const line = make('path', {d:smoothPath(i, l[2], !!l[1]), fill:'none', stroke:lineColors[l[0]], 'stroke-width':2}, inner);
    
    
  });
  tcNames.forEach((name, t) => {
    if (tcPanels[t] !== i) return;
    const cx = xScale(i, tcLons[t]), cy = yScale(i, tcLats[t]);
    const tc = make('g', {transform:'translate(' + cx.toFixed(1) + ' ' + cy.toFixed(1) + ')'}, g);
    
    
    make('path', {d:'M4 -10 C1 -8 -6 -7 -6 0 C-6 4 -3 6 -2 10 C0 7 6 6 6 0 C6 -4 3 -6 4 -10Z', fill:'#e0000f', stroke:'#000', 'stroke-width':1.2}, tc);
    const lab = make('text', {x:0, y:3, 'font-size':8, 'font-weight':'bold', fill:'#fff', 'text-anchor':'middle'}, tc);
    lab.textContent = name;
    
    
  });
  const frame = make('rect', {x:x0, y:y0, width:w, height:panelHeight, fill:'none', stroke:'#000', 'stroke-width':2.4}, g);
  
  
  const ticks = make('g', {stroke:'#000'}, g);
  
  
  for (let lon = 100; lon <= 260; lon += 10){
    const major = lonTicks.indexOf(lon) >= 0, len = major ? 6 : 3, x = xScale(i, lon);
    make('line', {x1:x, x2:x, y1:y0 - len, y2:y0, 'stroke-width':major ? 2 : 1}, ticks);
    make('line', {x1:x, x2:x, y1:y0 + panelHeight, y2:y0 + panelHeight + len, 'stroke-width':major ? 2 : 1}, ticks);
  }
  for (let lat = -20; lat <= 20; lat += 2.5){
    const major = lat % 10 === 0, len = major ? 6 : 3, y = yScale(i, lat);
    make('line', {x1:x0 - len, x2:x0, y1:y, y2:y, 'stroke-width':major ? 2 : 1}, ticks);
    make('line', {x1:x0 + w, x2:x0 + w + len, y1:y, y2:y, 'stroke-width':major ? 2 : 1}, ticks);
  }
  const tt = make('text', {x: i < 4 ? (i < 2 ? 101 : 100) : 843, y:y0 - 7, 'font-size':35, textLength:titleWidths[i], lengthAdjust:'spacingAndGlyphs'}, g);
  tt.textContent = title;
  
  
  if (i < 4){
    latTicks.forEach((lat, k) => {
      const lb = make('text', {x:74, y:yScale(i, lat) + 12, 'font-size':34.5, 'text-anchor':'end'}, g);
      lb.textContent = latTickLabels[k];
      
      
    });
  }
  if (i % 4 === 3){
    lonTicks.forEach((lon, k) => {
      const lb = make('text', {x:xScale(i, lon), y:y0 + panelHeight + 55, 'font-size':34.5, 'text-anchor':'middle'}, g);
      lb.textContent = lonTickLabels[k];
      
      
    });
  }
});
const obs = make('text', {x:588, y:32, 'font-size':35, textLength:149, lengthAdjust:'spacingAndGlyphs'}, root);
obs.textContent = 'Observed';


const fc = make('text', {x:1265, y:32, 'font-size':35, textLength:213, lengthAdjust:'spacingAndGlyphs'}, root);
fc.textContent = 'CFS Forecast';



const cb = document.getElementById('colorbar');
const boxW = (833 - 230) / colorbarLevels.length;
colorbarLevels.forEach((lev, k) => {
  const box = make('rect', {x:230 + k * boxW, y:972, width:boxW, height:23, fill:levelColors[lev], stroke:'#111', 'stroke-width':1.2}, cb);
  
  
});
colorbarLabels.forEach((lab, k) => {
  const t = make('text', {x:230 + (k + 1) * boxW, y:1022, 'font-size':28, 'text-anchor':'middle'}, cb);
  t.textContent = lab;
  
  
});
</script>
</body>
</html>
